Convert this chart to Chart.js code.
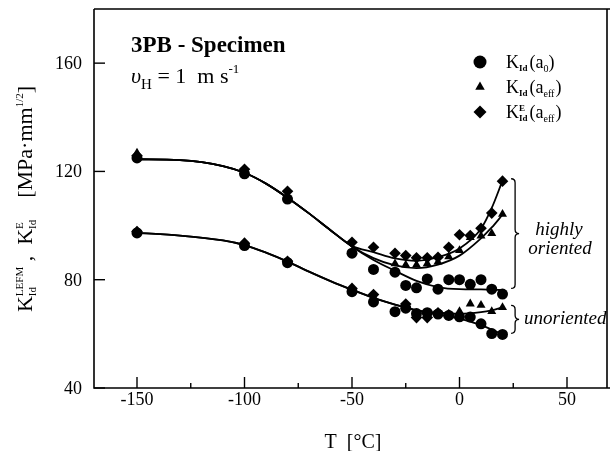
<!DOCTYPE html>
<html>
<head>
<meta charset="utf-8">
<script src="https://cdn.jsdelivr.net/npm/chart.js@4.4.1/dist/chart.umd.min.js"></script>
<style>
  body { margin: 0; background: #fff; }
  #wrap { width: 610px; height: 451px; }
</style>
</head>
<body>
<div id="wrap"><canvas id="kChart" width="610" height="451"></canvas></div>
<script>
// tick values
const xTickValues = [-150, -125, -100, -75, -50, -25, 0, 25, 50];
const yTickValues = [40, 80, 120, 160];

// measured points, highly oriented
const oriTemp = [-150, -100, -80, -50, -40, -30, -25, -20, -15, -10, -5, 0, 5, 10, 15, 20];
const oriA0 = [125.0, 119.1, 109.8, 89.8, 83.8, 82.8, 77.9, 77.0, 80.3, 76.5, 80.0, 80.0, 78.3, 80.0, 76.5, 74.7];
const oriAeff = [126.8, 119.5, 110.5, null, null, 85.9, 85.5, 85.5, 85.9, 86.6, 88.5, 90.8, 95.6, 96.2, 97.1, 104.2];
const oriAeffE = [125.8, 120.8, 112.7, 93.8, 92.0, 89.8, 88.9, 88.1, 88.1, 88.3, 92.0, 96.6, 96.3, 99.0, 104.6, 116.4];

// measured points, unoriented
const unoTemp = [-150, -100, -80, -50, -40, -30, -25, -20, -15, -10, -5, 0, 5, 10, 15, 20];
const unoA0 = [97.3, 92.6, 86.3, 75.6, 71.8, 68.2, 69.5, 67.5, 67.8, 67.3, 66.8, 66.3, 66.2, 63.7, 60.1, 59.8];
const unoAeff = [97.8, 93.0, 86.5, 76.3, 73.5, null, null, null, null, 67.6, null, 68.3, 71.1, 70.6, 68.3, 69.8];
const unoAeffE = [97.8, 93.5, 86.8, 76.8, 74.5, null, 71.0, 66.0, 66.0, 67.8, 67.0, null, null, null, null, null];

// fitted curves
const fitTemp = [-150, -130, -110, -100, -90, -80, -70, -60, -50, -40, -30, -20, -10, 0, 10, 15, 20];
const oriFitA0 = [124.5, 124.2, 122.0, 119.5, 115.5, 110.3, 104.5, 98.3, 92.3, 87.3, 83.3, 79.6, 77.3, 76.5, 76.4, 76.3, 76.2];
const oriFitAeff = [124.5, 124.2, 122.0, 119.5, 115.5, 110.3, 104.5, 98.3, 92.3, 88.0, 85.3, 84.3, 85.6, 88.9, 95.3, 99.3, 104.0];
const oriFitAeffE = [124.5, 124.2, 122.0, 119.5, 115.5, 110.3, 104.5, 98.3, 92.5, 90.2, 87.9, 87.0, 88.3, 91.5, 98.8, 106.5, 116.6];
const unoFitA0 = [97.3, 96.3, 94.5, 92.8, 90.0, 86.7, 83.0, 79.5, 76.3, 73.3, 70.8, 68.6, 67.1, 65.6, 63.2, 61.6, 59.8];
const unoFitAeff = [97.3, 96.3, 94.5, 92.8, 90.0, 86.7, 83.0, 79.5, 76.3, 73.3, 70.8, 68.8, 67.8, 67.4, 68.0, 68.7, 69.8];

// braces on the right
const braceTemp = [24, 24];
const braceTop = [117.3, 70.5];
const braceBottom = [76.8, 60.2];
const braceLabels = [["highly", "oriented"], ["unoriented"]];

const SERIF = "'Liberation Serif', 'DejaVu Serif', serif";

function pairs(xs, ys) {
  const out = [];
  xs.forEach((x, i) => { if (ys[i] !== null) out.push({ x, y: ys[i] }); });
  return out;
}

function pointSet(xs, ys, style, r) {
  return {
    data: pairs(xs, ys),
    showLine: false,
    pointStyle: style,
    pointRadius: r,
    pointBackgroundColor: "#000",
    pointBorderWidth: 0,
    borderColor: "#000"
  };
}

function curve(ys) {
  return {
    data: pairs(fitTemp, ys),
    showLine: true,
    pointRadius: 0,
    borderColor: "#000",
    borderWidth: 1.8,
    cubicInterpolationMode: "monotone",
    fill: false
  };
}

// draws text pieces one after another; {sup, sub} pieces are stacked
function drawRuns(ctx, x, y, runs, measureOnly) {
  let w = 0;
  runs.forEach(r => {
    ctx.font = r.font;
    if (r.sup !== undefined || r.sub !== undefined) {
      const ws = r.sup ? ctx.measureText(r.sup).width : 0;
      const wb = r.sub ? ctx.measureText(r.sub).width : 0;
      if (!measureOnly) {
        if (r.sup) ctx.fillText(r.sup, x + w, y - r.supUp);
        if (r.sub) ctx.fillText(r.sub, x + w, y + r.subDown);
      }
      w += Math.max(ws, wb) + (r.gap || 0);
    } else {
      if (!measureOnly) ctx.fillText(r.t, x + w, y + (r.dy || 0));
      w += ctx.measureText(r.t).width + (r.gap || 0);
    }
  });
  return w;
}

const framePlugin = {
  id: "frame",
  afterDraw(chart) {
    const ctx = chart.ctx;
    const a = chart.chartArea;
    const xs = chart.scales.x, ys = chart.scales.y;
    ctx.save();
    ctx.strokeStyle = "#000";
    ctx.fillStyle = "#000";
    ctx.lineWidth = 1.6;
    ctx.beginPath();
    ctx.moveTo(a.left, a.top); ctx.lineTo(a.right, a.top);
    ctx.moveTo(a.right - 3, a.top); ctx.lineTo(a.right - 3, a.bottom);
    ctx.moveTo(a.right, a.bottom); ctx.lineTo(a.left, a.bottom); ctx.lineTo(a.left, a.top);
    ctx.stroke();

    // inward ticks and tick labels
    ctx.lineWidth = 1.4;
    ctx.font = "18px " + SERIF;
    ctx.textBaseline = "alphabetic";
    xTickValues.forEach(v => {
      const px = xs.getPixelForValue(v);
      const major = v % 50 === 0;
      ctx.beginPath(); ctx.moveTo(px, a.bottom); ctx.lineTo(px, a.bottom - (major ? 11 : 5)); ctx.stroke();
      if (major) {
        ctx.textAlign = "center";
        ctx.fillText(String(v), px, a.bottom + 17);
      }
    });
    yTickValues.forEach(v => {
      const py = ys.getPixelForValue(v);
      ctx.beginPath(); ctx.moveTo(a.left, py); ctx.lineTo(a.left + 11, py); ctx.stroke();
      ctx.textAlign = "right";
      ctx.fillText(String(v), a.left - 12, py + 6);
    });

    // title lines
    ctx.textAlign = "left";
    ctx.font = "bold 23px " + SERIF;
    ctx.fillText("3PB - Specimen", 131, 52);
    drawRuns(ctx, 131, 83, [
      { t: "\u03C5", font: "italic 22px " + SERIF },
      { t: "H", font: "15px " + SERIF, dy: 6 },
      { t: " = 1  m s", font: "22px " + SERIF },
      { t: "-1", font: "13px " + SERIF, dy: -10 }
    ]);

    // legend
    const H = Chart.helpers;
    const big = "18px " + SERIF, small = "10px " + SERIF;
    const legendRows = [
      { style: "circle", r: 6.5, runs: [
        { t: "K", font: big }, { t: "Id", font: "bold 9px " + SERIF, dy: 3, gap: 2 },
        { t: "(a", font: big }, { t: "0", font: small, dy: 4 }, { t: ")", font: big }] },
      { style: "triangle", r: 5.5, runs: [
        { t: "K", font: big }, { t: "Id", font: "bold 9px " + SERIF, dy: 3, gap: 2 },
        { t: "(a", font: big }, { t: "eff", font: small, dy: 4, gap: 1 }, { t: ")", font: big }] },
      { style: "rectRot", r: 6.5, runs: [
        { t: "K", font: big }, { sup: "E", sub: "Id", font: "bold 9px " + SERIF, supUp: 7, subDown: 3, gap: 2 },
        { t: "(a", font: big }, { t: "eff", font: small, dy: 4, gap: 1 }, { t: ")", font: big }] }
    ];
    legendRows.forEach((row, i) => {
      const cy = 62 + i * 25;
      H.drawPoint(ctx, { pointStyle: row.style, radius: row.r, rotation: 0, borderWidth: 0 }, 480, cy);
      drawRuns(ctx, 506, cy + 6, row.runs);
    });

    // braces
    ctx.lineWidth = 1.3;
    braceTemp.forEach((t, i) => {
      const x0 = xs.getPixelForValue(t);
      const y0 = ys.getPixelForValue(braceTop[i]);
      const y1 = ys.getPixelForValue(braceBottom[i]);
      const ym = (y0 + y1) / 2;
      const xm = x0 + 4, tip = x0 + 8, r = 4;
      ctx.beginPath();
      ctx.moveTo(x0, y0);
      ctx.quadraticCurveTo(xm, y0, xm, y0 + r);
      ctx.lineTo(xm, ym - r);
      ctx.quadraticCurveTo(xm, ym, tip, ym);
      ctx.quadraticCurveTo(xm, ym, xm, ym + r);
      ctx.lineTo(xm, y1 - r);
      ctx.quadraticCurveTo(xm, y1, x0, y1);
      ctx.stroke();
      ctx.font = "italic 19px " + SERIF;
      const lines = braceLabels[i];
      if (lines.length === 2) {
        ctx.textAlign = "center";
        ctx.fillText(lines[0], 559, ym + 1);
        ctx.fillText(lines[1], 560, ym + 20);
        ctx.textAlign = "left";
      } else {
        ctx.fillText(lines[0], tip + 5, ym + 5);
      }
    });

    // x axis title
    ctx.font = "20px " + SERIF;
    ctx.textAlign = "center";
    ctx.fillText("T  [\u00B0C]", 353, 448);

    // y axis title, rotated
    ctx.textAlign = "left";
    const yRuns = [
      { t: "K", font: "22px " + SERIF },
      { sup: "LEFM", sub: "Id", font: "11px " + SERIF, supUp: 9, subDown: 4 },
      { t: " ,  ", font: "22px " + SERIF },
      { t: "K", font: "22px " + SERIF },
      { sup: "E", sub: "Id", font: "11px " + SERIF, supUp: 9, subDown: 4 },
      { t: "    [MPa\u00B7mm", font: "22px " + SERIF },
      { t: "1/2", font: "11px " + SERIF, dy: -9 },
      { t: "]", font: "22px " + SERIF }
    ];
    ctx.translate(32, 199);
    ctx.rotate(-Math.PI / 2);
    const w = drawRuns(ctx, 0, 0, yRuns, true);
    drawRuns(ctx, -w / 2, 0, yRuns);
    ctx.restore();
  }
};

new Chart(document.getElementById("kChart").getContext("2d"), {
  type: "line",
  data: {
    datasets: [
      pointSet(oriTemp, oriA0, "circle", 5.5),
      pointSet(oriTemp, oriAeff, "triangle", 5.2),
      pointSet(oriTemp, oriAeffE, "rectRot", 5.8),
      pointSet(unoTemp, unoA0, "circle", 5.5),
      pointSet(unoTemp, unoAeff, "triangle", 5.2),
      pointSet(unoTemp, unoAeffE, "rectRot", 5.8),
      curve(oriFitA0),
      curve(oriFitAeff),
      curve(oriFitAeffE),
      curve(unoFitA0),
      curve(unoFitAeff)
    ]
  },
  options: {
    responsive: false,
    animation: false,
    layout: { autoPadding: false, padding: { top: 9, left: 0, right: 0, bottom: 0 } },
    plugins: { legend: { display: false }, tooltip: { enabled: false } },
    scales: {
      x: {
        type: "linear",
        min: -170,
        max: 70,
        afterBuildTicks: s => { s.ticks = xTickValues.map(v => ({ value: v })); },
        afterFit: s => { s.height = 63; },
        grid: { display: false, drawTicks: false },
        border: { display: false },
        ticks: { display: false }
      },
      y: {
        min: 40,
        max: 180,
        afterBuildTicks: s => { s.ticks = yTickValues.map(v => ({ value: v })); },
        afterFit: s => { s.width = 94; },
        grid: { display: false, drawTicks: false },
        border: { display: false },
        ticks: { display: false }
      }
    }
  },
  plugins: [framePlugin]
});
</script>
</body>
</html>
